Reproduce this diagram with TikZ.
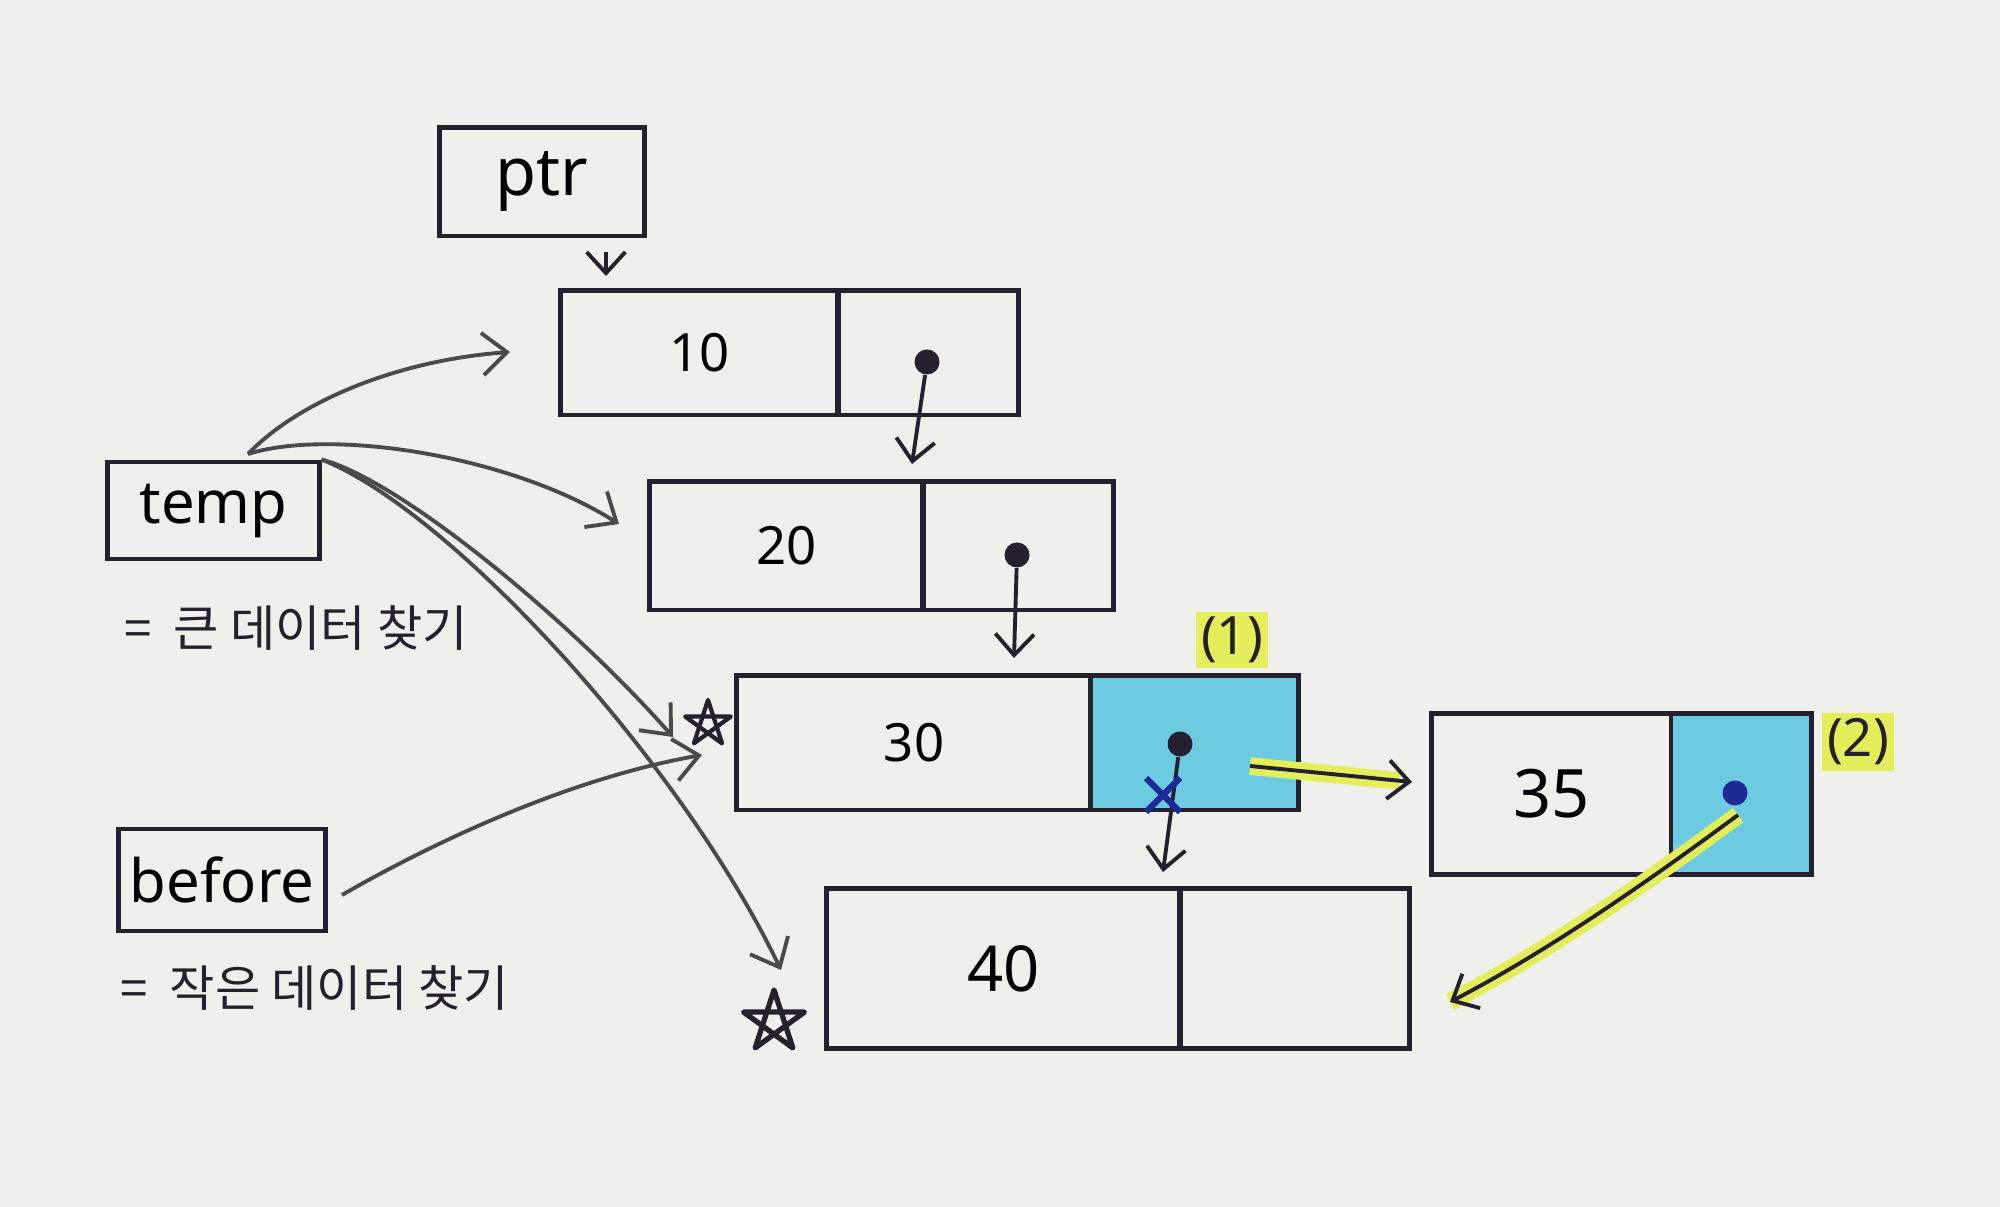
\documentclass[tikz,border=0pt]{standalone}
\usepackage{fontspec}
\setmainfont{Noto Sans}
\newfontfamily\kr{Noto Sans CJK KR}
\usetikzlibrary{shapes.geometric,arrows.meta,calc}
\definecolor{paper}{HTML}{EFEFEC}
\definecolor{ink}{HTML}{24202E}
\definecolor{graypen}{HTML}{4A4A4A}
\definecolor{cyanfill}{HTML}{6CCBE0}
\definecolor{hilite}{HTML}{E4EE5A}
\definecolor{bluepen}{HTML}{1C2A98}
\tikzset{
  pen/.style={draw=ink, line width=1.4pt},
  cell/.style={pen, rectangle, inner sep=0pt, font=\fontsize{15}{15}\selectfont},
  lab/.style={pen, rectangle, inner sep=0pt, font=\fontsize{17}{17}\selectfont},
  ptrdot/.style={circle, fill=ink, inner sep=0pt, minimum size=0.25cm},
  arr/.style={draw=ink, line width=1.1pt, -{Straight Barb[length=6pt,width=11pt]}},
  grayarr/.style={draw=graypen, line width=1.1pt, -{Straight Barb[length=7pt,width=12pt]}},
  hl/.style={draw=hilite, line width=5pt},
  starline/.style={draw=ink, line width=1.2pt, line join=round},
  krtext/.style={font=\kr\fontsize{14}{14}\selectfont, text=ink, anchor=west},
  num/.style={font=\fontsize{15}{15}\selectfont, text=ink}
}
\begin{document}
\begin{tikzpicture}[x=0.01cm,y=-0.01cm]
\fill[paper] (0,0) rectangle (2000,1207);
\useasboundingbox (0,0) rectangle (2000,1207);

% ptr box
\node[lab, font=\fontsize{19}{19}\selectfont, minimum width=2.04cm, minimum height=1.08cm] (ptr) at (542,182) {ptr};

% node 10
\node[cell, minimum width=2.77cm, minimum height=1.24cm] (n10d) at (699.5,353) {10};
\node[cell, minimum width=1.80cm, minimum height=1.24cm] (n10p) at (928,353) {};
% node 20
\node[cell, minimum width=2.73cm, minimum height=1.28cm] (n20d) at (786.5,546) {20};
\node[cell, minimum width=1.90cm, minimum height=1.28cm] (n20p) at (1018,546) {};
% node 30
\node[cell, minimum width=3.54cm, minimum height=1.34cm] (n30d) at (914,743) {30};
\node[cell, fill=cyanfill, minimum width=2.07cm, minimum height=1.34cm] (n30p) at (1194.5,743) {};
% node 35
\node[cell, font=\fontsize{19}{19}\selectfont, minimum width=2.39cm, minimum height=1.60cm] (n35d) at (1551.5,794) {35};
\node[cell, fill=cyanfill, minimum width=1.40cm, minimum height=1.60cm] (n35p) at (1741,794) {};
% node 40
\node[cell, font=\fontsize{18}{18}\selectfont, minimum width=3.53cm, minimum height=1.59cm] (n40d) at (1003.5,968.5) {40};
\node[cell, minimum width=2.29cm, minimum height=1.59cm] (n40p) at (1294.5,968.5) {};

% temp and before
\node[lab, minimum width=2.11cm, minimum height=0.97cm] (temp) at (213.5,510.5) {temp};
\node[lab, minimum width=2.06cm, minimum height=1.02cm] (before) at (222,880) {before};

% Korean notes
\node[krtext] (note1) at (112,628) {=\ \ 큰 데이터 찾기};
\node[krtext] (note2) at (108,988) {=\ \ 작은 데이터 찾기};

% stars (hand-drawn pentagrams)
\coordinate (star1) at (708,724);
\coordinate (star2) at (774,1022);
\path (star1) ++(-90:24) coordinate (a1) (star1) ++(54:24) coordinate (a2)
  (star1) ++(198:24) coordinate (a3) (star1) ++(342:24) coordinate (a4)
  (star1) ++(126:24) coordinate (a5);
\draw[starline] (a1) -- (a2) -- (a3) -- (a4) -- (a5) -- cycle;
\path (star2) ++(-90:32) coordinate (b1) (star2) ++(54:32) coordinate (b2)
  (star2) ++(198:32) coordinate (b3) (star2) ++(342:32) coordinate (b4)
  (star2) ++(126:32) coordinate (b5);
\draw[starline, line width=1.5pt] (b1) -- (b2) -- (b3) -- (b4) -- (b5) -- cycle;

% step labels
\node[fill=hilite, num, inner sep=1.5pt] (lab1) at (1232,640) {(1)};
\node[fill=hilite, num, inner sep=1.5pt] (lab2) at (1858,742) {(2)};

% pointer dots
\node[ptrdot] (d10) at (927,362) {};
\node[ptrdot] (d20) at (1017,555) {};
\node[ptrdot] (d30) at (1180,744) {};
\node[ptrdot, fill=bluepen] (d35) at (1735,793) {};

% coordinates for arrow ends
\coordinate (e10) at (606,276);
\coordinate (e20) at (912,464);
\coordinate (e30) at (1014,658);
\coordinate (e40) at (1163,872);

% pointer arrows
\draw[arr] ($(ptr.south)+(64,14)$) -- (e10);
\draw[arr] (d10) -- (e20);
\draw[arr] (d20) -- (e30);
\draw[arr] (d30) -- (e40);

% X mark in node 30
\draw[bluepen, line width=1.8pt] (1146,778) -- (1180,812) (1180,778) -- (1146,812);

% (1) 30 -> 35 highlighted
\coordinate (s1) at (1250,766);
\coordinate (t1) at (1412,782);
\draw[hl] (s1) -- ($(t1)+(-12,-1)$);
\draw[arr] (s1) -- (t1);

% (2) 35 -> 40 highlighted
\coordinate (s2) at (1738,815);
\coordinate (t2) at (1450,1002);
\draw[hl] (s2) .. controls (1650,880) and (1550,950) .. (t2);
\draw[arr] (s2) .. controls (1650,880) and (1550,950) .. (t2);

% temp arrows
\coordinate (ts) at (248,454);
\draw[grayarr] (ts) .. controls (300,400) and (400,360) .. (510,352);
\draw[grayarr] (ts) .. controls (330,428) and (510,455) .. (619,524);
\draw[grayarr] (temp.north east) .. controls (400,480) and (570,620) .. (673,737);
\draw[grayarr] (temp.north east) .. controls (450,510) and (680,760) .. (781,970);

% before arrow
\draw[grayarr] (342,895) .. controls (420,850) and (560,780) .. (702,755);
\end{tikzpicture}
\end{document}
